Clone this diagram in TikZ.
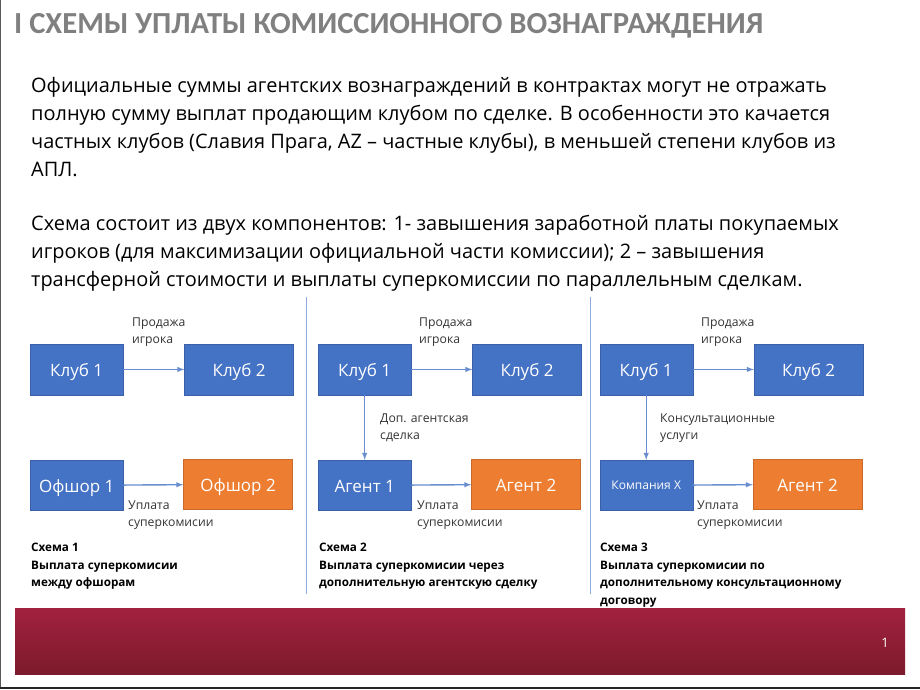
\documentclass[tikz,border=0pt]{standalone}
\usepackage{fontspec}
\setmainfont{Open Sans}
\newfontfamily\titlefont{Carlito}
\usetikzlibrary{positioning}
\definecolor{boxblue}{HTML}{4472C4}
\definecolor{boxorange}{HTML}{ED7D31}
\definecolor{bandtop}{RGB}{162,33,62}
\definecolor{bandbottom}{RGB}{125,26,44}
\begin{document}
\begin{tikzpicture}[
    x=1pt, y=-1pt,
    node distance=61pt,
    blue box/.style={draw=boxblue!85!black, fill=boxblue, text=white, minimum width=93pt, minimum height=50.5pt, inner sep=0pt, text height=16pt, text depth=2pt, font=\fontsize{17}{19}\selectfont},
    wide box/.style={blue box, minimum width=109pt},
    orange box/.style={wide box, draw=boxorange!85!black, fill=boxorange, xshift=-1pt, yshift=1pt},
    link/.style={draw=boxblue!80!white, line width=1.4pt, -latex},
    note/.style={align=left, anchor=north west, inner sep=0pt, font=\fontsize{12.2}{16.7}\selectfont, text=black!80},
    caption/.style={align=left, anchor=north west, inner sep=0pt, font=\fontsize{11.7}{17.5}\selectfont\bfseries},
    body/.style={anchor=north west, inner sep=0pt, align=left, font=\fontsize{19.95}{28}\selectfont},
    divider/.style={draw=boxblue!60!white, semithick}
]
\useasboundingbox (0,0) rectangle (920,690);

% рамка
\draw[black!65, line width=1.5pt] (0.5,0) -- (0.5,687);
\draw[black!85, line width=1.5pt] (0,688) -- (920,688);

% заголовок и текст
\node[anchor=west, inner sep=0pt, text=black!50, font=\fontsize{30.6}{33}\selectfont\titlefont\bfseries] (heading) at (14,26) {I СХЕМЫ УПЛАТЫ КОМИССИОННОГО ВОЗНАГРАЖДЕНИЯ};
\node[body] (para1) at (31,77) {Официальные суммы агентских вознаграждений в контрактах могут не отражать\\полную сумму выплат продающим клубом по сделке. В особенности это качается\\частных клубов (Славия Прага, AZ -- частные клубы), в меньшей степени клубов из\\АПЛ.};
\node[body] (para2) at (31,215) {Схема состоит из двух компонентов: 1- завышения заработной платы покупаемых\\игроков (для максимизации официальной части комиссии); 2 -- завышения\\трансферной стоимости и выплаты суперкомиссии по параллельным сделкам.};

% разделители
\coordinate (divtop1) at (306.5,297);
\coordinate (divbot1) at (306.5,594);
\coordinate (divtop2) at (590,297);
\coordinate (divbot2) at (590,594);
\draw[divider] (divtop1) -- (divbot1);
\draw[divider] (divtop2) -- (divbot2);

% схема 1
\node[blue box, anchor=north west] (club1a) at (30,344) {Клуб 1};
\node[wide box, right=of club1a] (club2a) {Клуб 2};
\node[blue box, below=65pt of club1a] (off1) {Офшор 1};
\node[orange box, right=of off1] (off2) {Офшор 2};
\draw[link] (club1a) -- (club2a);
\draw[link] (off1) -- (off2);
\node[note] (sale1) at (132,318) {Продажа\\игрока};
\node[note] (pay1) at (128,501) {Уплата\\суперкомисии};
\node[caption] (cap1) at (31,543) {Схема 1\\Выплата суперкомисии\\между офшорам};

% схема 2
\node[blue box, anchor=north west] (club1b) at (318,344) {Клуб 1};
\node[wide box, right=of club1b] (club2b) {Клуб 2};
\node[blue box, below=65pt of club1b] (agent1b) {Агент 1};
\node[orange box, right=of agent1b] (agent2b) {Агент 2};
\draw[link] (club1b) -- (club2b);
\draw[link] (club1b) -- (agent1b);
\draw[link] (agent1b) -- (agent2b);
\node[note] (sale2) at (419,318) {Продажа\\игрока};
\node[note] (extra2) at (380,414) {Доп. агентская\\сделка};
\node[note] (pay2) at (417,501) {Уплата\\суперкомисии};
\node[caption] (cap2) at (319,543) {Схема 2\\Выплата суперкомисии через\\дополнительную агентскую сделку};

% схема 3
\node[blue box, anchor=north west] (club1c) at (599.5,344) {Клуб 1};
\node[wide box, right=of club1c] (club2c) {Клуб 2};
\node[blue box, below=65pt of club1c, text height=10pt, text depth=2pt, font=\fontsize{12}{14}\selectfont] (compx) {Компания Х};
\node[orange box, right=of compx] (agent2c) {Агент 2};
\draw[link] (club1c) -- (club2c);
\draw[link] (club1c) -- (compx);
\draw[link] (compx) -- (agent2c);
\node[note] (sale3) at (701,318) {Продажа\\игрока};
\node[note] (consult3) at (660,414) {Консультационные\\услуги};
\node[note] (pay3) at (697,501) {Уплата\\суперкомисии};
\node[caption] (cap3) at (600,543) {Схема 3\\Выплата суперкомисии по\\дополнительному консультационному\\договору};

% нижняя полоса
\node[anchor=north west, minimum width=890pt, minimum height=66pt, inner sep=0pt, top color=bandtop, bottom color=bandbottom] (band) at (15,608) {};
\node[text=white, font=\fontsize{13}{15}\selectfont] (pagenum) at (885,643) {1};
\end{tikzpicture}
\end{document}
